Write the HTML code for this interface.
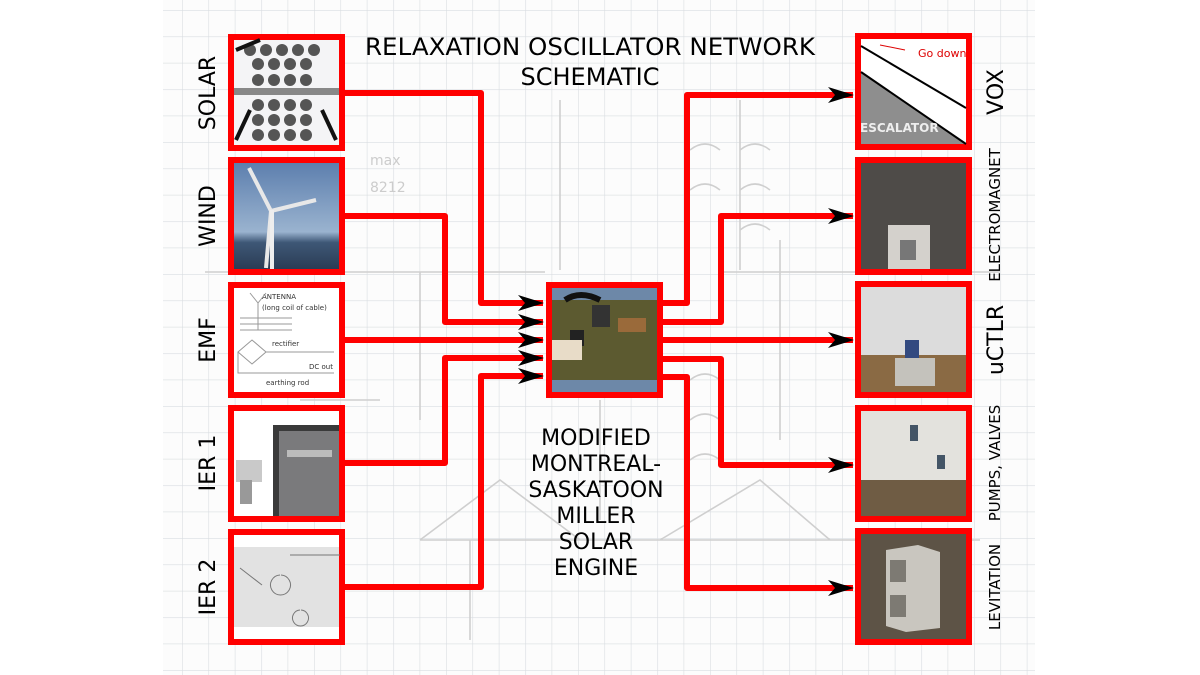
<!DOCTYPE html>
<html><head><meta charset="utf-8"><style>
html,body{margin:0;padding:0;background:#fff;}
svg{display:block;}
text{font-family:"DejaVu Sans","Liberation Sans",sans-serif;}
</style></head><body>
<svg width="1200" height="675" viewBox="0 0 1200 675" xmlns="http://www.w3.org/2000/svg">
<defs>
<pattern id="grid" x="182" y="10" width="26.4" height="26.4" patternUnits="userSpaceOnUse">
<path d="M0 0V26.4M0 0H26.4" stroke="#d9dde1" stroke-width="1.2" fill="none"/>
</pattern>
<marker id="ar" viewBox="0 0 26 16" refX="25" refY="8" markerWidth="26" markerHeight="16" markerUnits="userSpaceOnUse" orient="auto">
<path d="M0 0 L26 8 L0 16 L7 8 Z" fill="#000"/>
</marker>
</defs>
<rect x="163" y="0" width="872" height="675" fill="#fcfcfc"/>
<rect x="163" y="0" width="872" height="675" fill="url(#grid)"/>
<!-- faint sketch -->
<g stroke="#cfcfcf" stroke-width="1.6" fill="none">
<path d="M205 272 H545 M420 272 V420 M720 272 H1000 M780 240 V440 M560 100 V270 M740 100 V270 M420 540 L500 480 L580 540 M420 540 H980 M660 540 L760 480 L830 540 M600 400 V520 M470 540 V640 M300 400 H380"/>
<path d="M690 380 q15 -12 30 0 M690 420 q15 -12 30 0 M690 460 q15 -12 30 0 M690 150 q15 -12 30 0 M690 190 q15 -12 30 0 M740 150 q15 -12 30 0 M740 190 q15 -12 30 0 M740 230 q15 -12 30 0"/>
</g>
<text x="370" y="165" font-size="14" fill="#cccccc">max</text>
<text x="370" y="192" font-size="14" fill="#cccccc">8212</text>

<!-- red connectors -->
<g stroke="#ff0000" stroke-width="6" fill="none" stroke-linejoin="round">
<path d="M345 93 H481 V303 H543" marker-end="url(#ar)"/>
<path d="M345 216 H445 V322 H543" marker-end="url(#ar)"/>
<path d="M345 340 H543" marker-end="url(#ar)"/>
<path d="M345 463 H445 V358 H543" marker-end="url(#ar)"/>
<path d="M345 587 H481 V376 H543" marker-end="url(#ar)"/>
<path d="M663 303 H687 V95 H853" marker-end="url(#ar)"/>
<path d="M663 322 H721 V216 H853" marker-end="url(#ar)"/>
<path d="M663 340 H853" marker-end="url(#ar)"/>
<path d="M663 359 H721 V465 H853" marker-end="url(#ar)"/>
<path d="M663 377 H687 V588 H853" marker-end="url(#ar)"/>
</g>

<!-- left boxes -->
<g>
<rect x="228" y="34" width="117" height="117" fill="#ff0000"/>
<rect x="234" y="40" width="105" height="105" fill="#f4f4f6"/>
<g fill="#555">
<circle cx="250" cy="50" r="6"/><circle cx="266" cy="50" r="6"/><circle cx="282" cy="50" r="6"/><circle cx="298" cy="50" r="6"/><circle cx="314" cy="50" r="6"/>
<circle cx="258" cy="64" r="6"/><circle cx="274" cy="64" r="6"/><circle cx="290" cy="64" r="6"/><circle cx="306" cy="64" r="6"/>
<circle cx="258" cy="80" r="6"/><circle cx="274" cy="80" r="6"/><circle cx="290" cy="80" r="6"/><circle cx="306" cy="80" r="6"/>
<circle cx="258" cy="105" r="6"/><circle cx="274" cy="105" r="6"/><circle cx="290" cy="105" r="6"/><circle cx="306" cy="105" r="6"/>
<circle cx="258" cy="120" r="6"/><circle cx="274" cy="120" r="6"/><circle cx="290" cy="120" r="6"/><circle cx="306" cy="120" r="6"/>
<circle cx="258" cy="135" r="6"/><circle cx="274" cy="135" r="6"/><circle cx="290" cy="135" r="6"/><circle cx="306" cy="135" r="6"/>
</g>
<rect x="234" y="88" width="105" height="7" fill="#888"/>
<path d="M236 140 L250 110 M336 140 L322 110 M236 50 L260 40" stroke="#111" stroke-width="4"/>

<rect x="228" y="157" width="117" height="118" fill="#ff0000"/>
<defs><linearGradient id="sky" x1="0" y1="0" x2="0" y2="1"><stop offset="0" stop-color="#5d7fae"/><stop offset="0.65" stop-color="#9ab3cf"/><stop offset="0.75" stop-color="#3e5776"/><stop offset="1" stop-color="#2b3c55"/></linearGradient></defs>
<rect x="234" y="163" width="105" height="106" fill="url(#sky)"/>
<path d="M271 211 L249 168 M271 211 L316 200 M271 211 L266 268" stroke="#e8e8e8" stroke-width="4"/>
<rect x="270" y="210" width="4" height="59" fill="#eee"/>

<rect x="228" y="282" width="117" height="116" fill="#ff0000"/>
<rect x="234" y="288" width="105" height="104" fill="#fff"/>
<g fill="#333" font-size="7"><text x="262" y="299">ANTENNA</text><text x="262" y="310">(long coil of cable)</text><text x="272" y="346">rectifier</text><text x="309" y="369">DC out</text><text x="266" y="385">earthing rod</text></g>
<g stroke="#999" fill="none" stroke-width="1"><path d="M250 293 L258 303 L266 293 M258 303 V330 M240 318 H292 M240 324 H292 M240 330 H292 M238 352 L252 340 L266 352 L252 364 Z M238 352 V373 H334 M266 352 H334"/></g>

<rect x="228" y="405" width="117" height="117" fill="#ff0000"/>
<rect x="234" y="411" width="105" height="105" fill="#fff"/>
<rect x="273" y="425" width="66" height="91" fill="#3a3a3a"/>
<rect x="279" y="431" width="60" height="85" fill="#7a7a7c"/>
<rect x="287" y="450" width="45" height="7" fill="#bbb"/>
<rect x="236" y="460" width="26" height="22" fill="#c9c9c9"/>
<rect x="240" y="480" width="12" height="24" fill="#999"/>

<rect x="228" y="529" width="117" height="116" fill="#ff0000"/>
<rect x="234" y="535" width="105" height="104" fill="#fff"/>
<rect x="234" y="547" width="105" height="80" fill="#e2e2e2"/>
<g stroke="#777" fill="none" stroke-width="1"><path d="M240 568 L262 585 M290 555 H340 M280 575 a10 10 0 1 0 1 0 M300 610 a8 8 0 1 0 1 0"/></g>
</g>

<!-- center -->
<rect x="546" y="282" width="117" height="116" fill="#ff0000"/>
<rect x="552" y="288" width="105" height="104" fill="#6d88a8"/>
<rect x="552" y="300" width="105" height="80" fill="#5c5a30"/>
<rect x="592" y="305" width="18" height="22" fill="#333"/>
<rect x="618" y="318" width="28" height="14" fill="#9a6a3a"/>
<rect x="570" y="330" width="14" height="16" fill="#222"/>
<rect x="552" y="340" width="30" height="20" fill="#e8dcc8"/>
<path d="M565 300 Q580 290 600 300" stroke="#111" stroke-width="6" fill="none"/>

<!-- right boxes -->
<rect x="855" y="33" width="117" height="117" fill="#ff0000"/>
<rect x="861" y="39" width="105" height="105" fill="#fff"/>
<path d="M861 72 L966 144 H861 Z" fill="#8e8e8e"/>
<path d="M861 46 L966 108" stroke="#000" stroke-width="2"/>
<path d="M861 72 L966 144" stroke="#000" stroke-width="2"/>
<text x="918" y="57" font-size="11" fill="#d00">Go down</text>
<path d="M880 45 L905 50" stroke="#d00" stroke-width="1"/>
<text x="860" y="132" font-size="12" font-weight="bold" fill="#eee">ESCALATOR</text>

<rect x="855" y="157" width="117" height="118" fill="#ff0000"/>
<rect x="861" y="163" width="105" height="106" fill="#4e4b48"/>
<rect x="888" y="225" width="42" height="44" fill="#d4d1cc"/>
<rect x="900" y="240" width="16" height="20" fill="#777"/>

<rect x="855" y="281" width="117" height="117" fill="#ff0000"/>
<rect x="861" y="287" width="105" height="105" fill="#dcdcdc"/>
<rect x="861" y="355" width="105" height="37" fill="#8a6a44"/>
<rect x="895" y="358" width="40" height="28" fill="#c4c2bc"/>
<rect x="905" y="340" width="14" height="18" fill="#334a80"/>

<rect x="855" y="405" width="117" height="117" fill="#ff0000"/>
<rect x="861" y="411" width="105" height="105" fill="#e3e2dd"/>
<rect x="861" y="480" width="105" height="36" fill="#6f5c44"/>
<rect x="910" y="425" width="8" height="16" fill="#456"/>
<rect x="937" y="455" width="8" height="14" fill="#456"/>

<rect x="855" y="528" width="117" height="117" fill="#ff0000"/>
<rect x="861" y="534" width="105" height="105" fill="#5d5346"/>
<path d="M886 550 L918 545 L940 552 V628 L906 632 L886 626 Z" fill="#c9c6bf"/>
<rect x="890" y="560" width="16" height="22" fill="#7d7a73"/>
<rect x="890" y="595" width="16" height="22" fill="#7d7a73"/>

<!-- labels -->
<g font-size="22" fill="#000" text-anchor="middle">
<text x="590" y="55" font-size="24" textLength="450" lengthAdjust="spacingAndGlyphs">RELAXATION OSCILLATOR NETWORK</text>
<text x="590" y="85" font-size="24">SCHEMATIC</text>
<text x="596" y="445">MODIFIED</text>
<text x="596" y="471">MONTREAL-</text>
<text x="596" y="497">SASKATOON</text>
<text x="596" y="523">MILLER</text>
<text x="596" y="549">SOLAR</text>
<text x="596" y="575">ENGINE</text>
<text transform="translate(215,93) rotate(-90)">SOLAR</text>
<text transform="translate(215,216) rotate(-90)">WIND</text>
<text transform="translate(215,340) rotate(-90)">EMF</text>
<text transform="translate(215,463) rotate(-90)">IER 1</text>
<text transform="translate(215,587) rotate(-90)">IER 2</text>
<text transform="translate(1003,92) rotate(-90)">VOX</text>
<text transform="translate(1003,340) rotate(-90)">uCTLR</text>
</g>
<g font-size="15" fill="#000" text-anchor="middle">
<text transform="translate(1000,215) rotate(-90)">ELECTROMAGNET</text>
<text transform="translate(1000,463) rotate(-90)">PUMPS, VALVES</text>
<text transform="translate(1000,587) rotate(-90)">LEVITATION</text>
</g>
</svg>
</body></html>
